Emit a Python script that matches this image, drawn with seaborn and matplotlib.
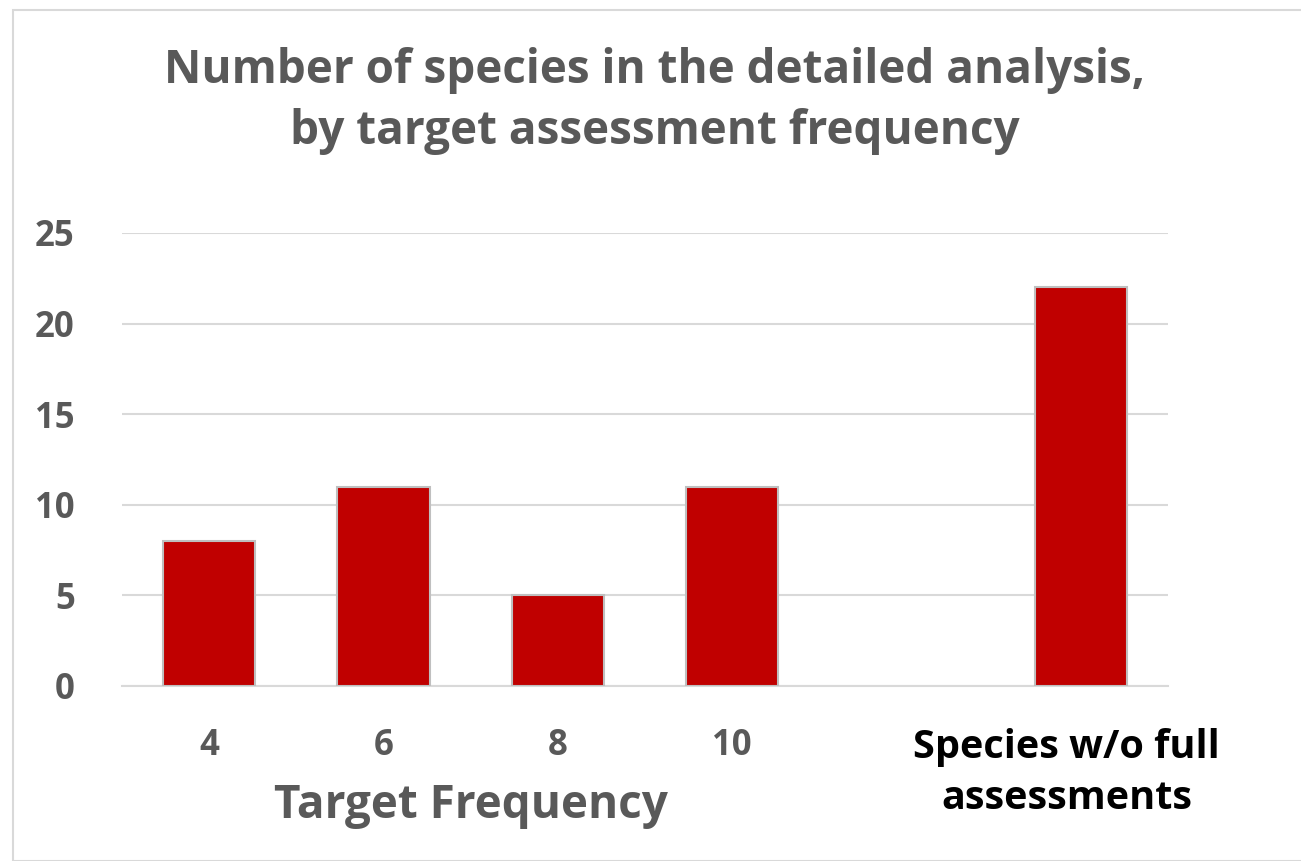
import numpy as np
import pandas as pd
import seaborn as sns
import matplotlib.pyplot as plt
import matplotlib.transforms as mtransforms
from matplotlib.patches import Rectangle

categories = ["4", "6", "8", "10", " ", "Species w/o full\nassessments"]
species_counts = [8, 11, 5, 11, np.nan, 22]
y_ticks = [0, 5, 10, 15, 20, 25]

df = pd.DataFrame({"freq": categories, "count": species_counts})

sns.set_style("white")
plt.rcParams['font.family'] = ['Open Sans', 'DejaVu Sans']

grey = "#595959"
fig = plt.figure(figsize=(13.01, 8.61), dpi=100)
ax = fig.add_axes([0.0938, 0.2033, 0.804, 0.5261])

sns.barplot(data=df.dropna(), x="freq", y="count", order=categories,
            color="#C00000", saturation=1, width=0.53,
            edgecolor="#bfbfbf", linewidth=1.5, ax=ax, zorder=3)

ax.set_ylim(0, 25)
ax.set_xlim(-0.5, len(categories) - 0.5)
ax.set_yticks(y_ticks)
ax.yaxis.grid(True, color="#d9d9d9", linewidth=1.5, zorder=0)
ax.set_axisbelow(True)
for s in ax.spines.values():
    s.set_visible(False)
ax.spines["bottom"].set_visible(True)
ax.spines["bottom"].set_color("#d9d9d9")
ax.spines["bottom"].set_linewidth(1.5)

ax.tick_params(axis="both", length=0, labelsize=25, labelcolor=grey)
ax.tick_params(axis="y", pad=34)
ax.tick_params(axis="x", pad=30)
for lbl in ax.get_yticklabels():
    lbl.set_fontweight("bold")
for lbl in ax.get_xticklabels():
    lbl.set_fontweight("bold")
last = ax.get_xticklabels()[-1]
last.set_color("black")
last.set_fontsize(28.5)
last.set_linespacing(1.4)
last.set_verticalalignment("top")
last.set_transform(last.get_transform() +
                   mtransforms.ScaledTranslation(-0.14, 0, fig.dpi_scale_trans))

ax.set_xlabel("")
ax.set_ylabel("")
ax.text(1.5, -0.263, "Target Frequency", transform=ax.get_xaxis_transform(),
        ha="center", va="center", fontsize=33, fontweight="bold", color=grey)

fig.text(0.503, 0.883, "Number of species in the detailed analysis,\nby target assessment frequency",
         ha="center", va="center", fontsize=33, fontweight="bold", color=grey,
         linespacing=1.38)

fig.patches.append(Rectangle((13 / 1301, 0), 1.0, 1 - 10 / 861, transform=fig.transFigure,
                             fill=False, edgecolor="#d9d9d9", linewidth=1.5))

fig.savefig("out.png", dpi=100)
